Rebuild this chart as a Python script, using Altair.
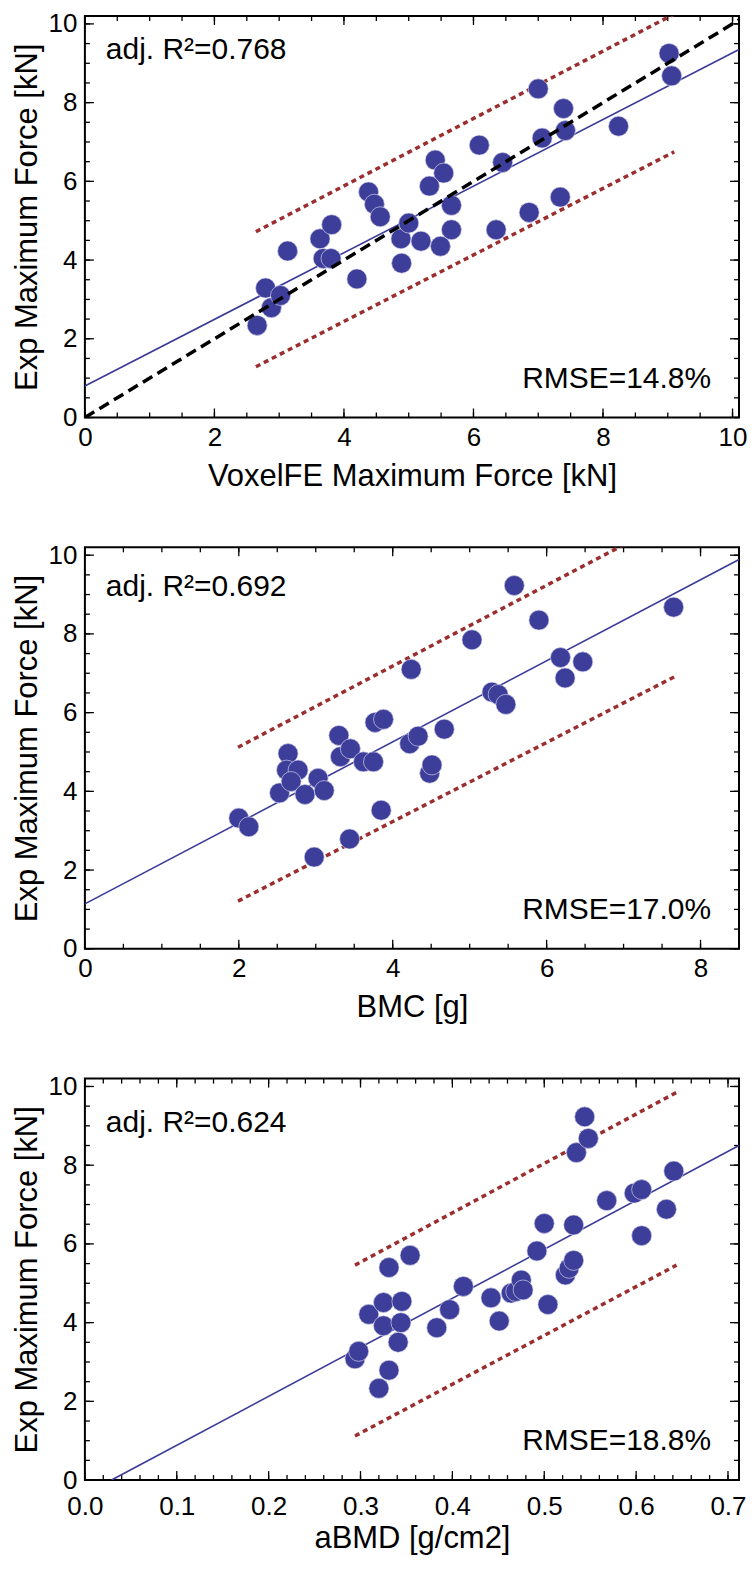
import altair as alt
import pandas as pd

# ---------------- data ----------------
# Panel 1: VoxelFE vs experiment
fe_x = [2.66, 2.79, 2.88, 3.02, 3.13, 3.63, 3.81, 3.68, 3.80, 4.20, 4.38, 4.47, 4.56,
        4.88, 4.89, 5.00, 5.19, 5.41, 5.54, 5.32, 5.66, 5.66, 5.49, 6.09, 6.45, 6.35,
        6.86, 7.34, 7.00, 7.06, 7.39, 7.42, 8.24, 9.02, 9.06]
fe_y = [2.34, 3.29, 2.79, 3.10, 4.23, 4.54, 4.90, 4.04, 4.04, 3.52, 5.73, 5.42, 5.10,
        4.54, 3.92, 4.94, 4.48, 6.54, 6.21, 5.88, 5.39, 4.77, 4.35, 6.92, 6.48, 4.77,
        5.21, 5.60, 8.35, 7.10, 7.85, 7.29, 7.40, 9.25, 8.68]
fe_fit_x = [0.0, 10.1]
fe_fit_y = [0.80, 9.35]
fe_band_x = [2.64, 9.10]
fe_band_up = [4.72, 10.25]
fe_band_lo = [1.29, 6.75]
ident_x = [0.0, 10.3]
ident_y = [0.0, 10.3]

# Panel 2: BMC vs experiment
bmc_x = [2.00, 2.13, 2.53, 2.64, 2.62, 2.77, 2.68, 2.86, 3.03, 3.11, 2.98, 3.30, 3.32,
         3.45, 3.62, 3.75, 3.77, 3.88, 3.44, 3.85, 4.24, 4.22, 4.33, 4.67, 4.48, 4.51,
         5.03, 5.29, 5.37, 5.47, 5.58, 5.90, 6.18, 6.24, 6.47, 7.65]
bmc_y = [3.32, 3.10, 3.96, 4.96, 4.54, 4.54, 4.25, 3.92, 4.33, 4.02, 2.33, 5.42, 4.88,
         5.08, 4.75, 4.75, 5.75, 5.83, 2.79, 3.52, 7.10, 5.21, 5.40, 5.58, 4.46, 4.67,
         7.85, 6.52, 6.46, 6.21, 9.23, 8.35, 7.40, 6.88, 7.29, 8.68]
bmc_fit_x = [0.0, 8.5]
bmc_fit_y = [1.14, 9.89]
bmc_band_x = [1.99, 7.67]
bmc_band_up = [5.12, 10.95]
bmc_band_lo = [1.21, 6.92]

# Panel 3: aBMD vs experiment
abmd_x = [0.294, 0.298, 0.309, 0.325, 0.320, 0.331, 0.331, 0.325, 0.344, 0.345, 0.341,
          0.354, 0.383, 0.397, 0.412, 0.442, 0.451, 0.464, 0.469, 0.475, 0.477, 0.492,
          0.500, 0.504, 0.523, 0.527, 0.532, 0.532, 0.535, 0.548, 0.544, 0.568, 0.598,
          0.606, 0.606, 0.633, 0.641]
abmd_y = [3.08, 3.27, 4.21, 4.51, 2.33, 2.79, 5.40, 3.92, 4.00, 4.54, 3.50, 5.71, 3.87,
          4.33, 4.92, 4.63, 4.04, 4.75, 4.79, 5.08, 4.83, 5.82, 6.52, 4.46, 5.21, 5.38,
          5.58, 6.48, 8.32, 8.68, 9.23, 7.10, 7.29, 7.38, 6.21, 6.88, 7.85]
abmd_fit_x = [0.029, 0.712]
abmd_fit_y = [0.0, 8.50]
abmd_band_x = [0.294, 0.644]
abmd_band_up = [5.46, 9.85]
abmd_band_lo = [1.12, 5.46]

# axis ticks
y_labels = [0, 2, 4, 6, 8, 10]
y_minor = [0.5 * i for i in range(21)]
fe_labels = [0, 2, 4, 6, 8, 10]
fe_minor = [0.5 * i for i in range(21)]
bmc_labels = [0, 2, 4, 6, 8]
bmc_minor = [0.5 * i for i in range(18)]
abmd_labels = [0.0, 0.1, 0.2, 0.3, 0.4, 0.5, 0.6, 0.7]
abmd_minor = [round(0.02 * i, 2) for i in range(36)]

titles = ["VoxelFE Maximum Force [kN]", "BMC [g]", "aBMD [g/cm2]"]
r2_text = ["adj. R²=0.768", "adj. R²=0.692", "adj. R²=0.624"]
rmse_text = ["RMSE=14.8%", "RMSE=17.0%", "RMSE=18.8%"]
y_title = "Exp Maximum Force [kN]"

# ---------------- styling ----------------
FONT = "Liberation Sans"
W, H = 655, 402
PT = "#3d3d9a"
FITC = "#3b3b98"
BANDC = "#9b2e2e"
YDOM = [0, 10.2]
MAJ, MIN = 9, 5


def panel(px, py, fx, fy, bx, bup, blo, xdom, xlabels, xminor, xtitle, xfmt,
          r2, rmse, r2_base, xlabpad, ident=None):
    xs = alt.Scale(domain=xdom, nice=False, zero=False)
    ys = alt.Scale(domain=YDOM, nice=False, zero=False)
    xax = alt.Axis(values=xlabels, format=xfmt, labelPadding=xlabpad,
                   titlePadding=11 - (xlabpad - 7),
                   labelFlush=False, labelOverlap=False)
    yax = alt.Axis(values=y_labels, labelPadding=8, titlePadding=5,
                   labelFlush=False, labelOverlap=False)

    def X(f):
        return alt.X(f, scale=xs, title=xtitle, axis=xax)

    def Y(f):
        return alt.Y(f, scale=ys, title=y_title, axis=yax)

    pts = pd.DataFrame({"x": px, "y": py})
    circ = dict(size=400, color=PT, opacity=1, stroke="#e6e6f5", strokeWidth=0.6)
    layers = [alt.Chart(pts).mark_circle(**circ).encode(x=X("x:Q"), y=Y("y:Q"))]

    # ticks (inside the frame, on all four sides)
    for vals, L in ((xlabels, MAJ), (xminor, MIN)):
        d = pd.DataFrame({"x": vals})
        b = alt.Chart(d).mark_rule(color="black", strokeWidth=1.3)
        layers.append(b.encode(x=X("x:Q"), y=alt.value(H), y2=alt.value(H - L)))
        layers.append(b.encode(x=X("x:Q"), y=alt.value(0), y2=alt.value(L)))
    for vals, L in ((y_labels, MAJ), (y_minor, MIN)):
        d = pd.DataFrame({"y": vals})
        b = alt.Chart(d).mark_rule(color="black", strokeWidth=1.3)
        layers.append(b.encode(y=Y("y:Q"), x=alt.value(0), x2=alt.value(L)))
        layers.append(b.encode(y=Y("y:Q"), x=alt.value(W), x2=alt.value(W - L)))

    # fitted line
    fit = pd.DataFrame({"x": fx, "y": fy})
    layers.append(alt.Chart(fit).mark_line(color=FITC, strokeWidth=1.6, clip=True).encode(
        x=X("x:Q"), y=Y("y:Q")))

    # prediction band
    for yy in (bup, blo):
        d = pd.DataFrame({"x": bx, "y": yy})
        layers.append(alt.Chart(d).mark_line(color=BANDC, strokeWidth=3.5,
                                             strokeDash=[5, 4], clip=True).encode(
            x=X("x:Q"), y=Y("y:Q")))

    # points on top of the band lines
    layers.append(alt.Chart(pts).mark_circle(**circ).encode(x=X("x:Q"), y=Y("y:Q")))

    # identity line (panel 1 only)
    if ident is not None:
        d = pd.DataFrame({"x": ident[0], "y": ident[1]})
        layers.append(alt.Chart(d).mark_line(color="black", strokeWidth=3.5,
                                             strokeDash=[11, 6], clip=True).encode(
            x=X("x:Q"), y=Y("y:Q")))

    # annotations
    layers.append(alt.Chart(pd.DataFrame({"t": [r2]})).mark_text(
        align="left", baseline="alphabetic", font=FONT, fontSize=30, color="black").encode(
        x=alt.value(21), y=alt.value(r2_base), text="t:N"))
    layers.append(alt.Chart(pd.DataFrame({"t": [rmse]})).mark_text(
        align="right", baseline="alphabetic", font=FONT, fontSize=30, color="black").encode(
        x=alt.value(W - 28), y=alt.value(H - 30), text="t:N"))

    return alt.layer(*layers).properties(width=W, height=H)


p1 = panel(fe_x, fe_y, fe_fit_x, fe_fit_y, fe_band_x, fe_band_up, fe_band_lo,
           [0, 10.1], fe_labels, fe_minor, titles[0], "d", r2_text[0], rmse_text[0], 43, 7,
           ident=(ident_x, ident_y))
p2 = panel(bmc_x, bmc_y, bmc_fit_x, bmc_fit_y, bmc_band_x, bmc_band_up, bmc_band_lo,
           [0, 8.5], bmc_labels, bmc_minor, titles[1], "d", r2_text[1], rmse_text[1], 49, 7)
p3 = panel(abmd_x, abmd_y, abmd_fit_x, abmd_fit_y, abmd_band_x, abmd_band_up, abmd_band_lo,
           [0, 0.712], abmd_labels, abmd_minor, titles[2], ".1f", r2_text[2], rmse_text[2], 53, 13)

chart = alt.vconcat(p1, p2, p3, spacing=48).properties(
    padding={"left": 2, "top": 0, "right": 0, "bottom": 0},
    background="white"
).configure_view(
    stroke="black", strokeWidth=2
).configure_axis(
    labelFont=FONT, labelFontSize=26, labelColor="black",
    titleFont=FONT, titleFontSize=31, titleFontWeight="normal", titleColor="black",
    grid=False, ticks=False, domain=False
)

chart.save("out.html", embed_options={"renderer": "svg", "actions": False})
